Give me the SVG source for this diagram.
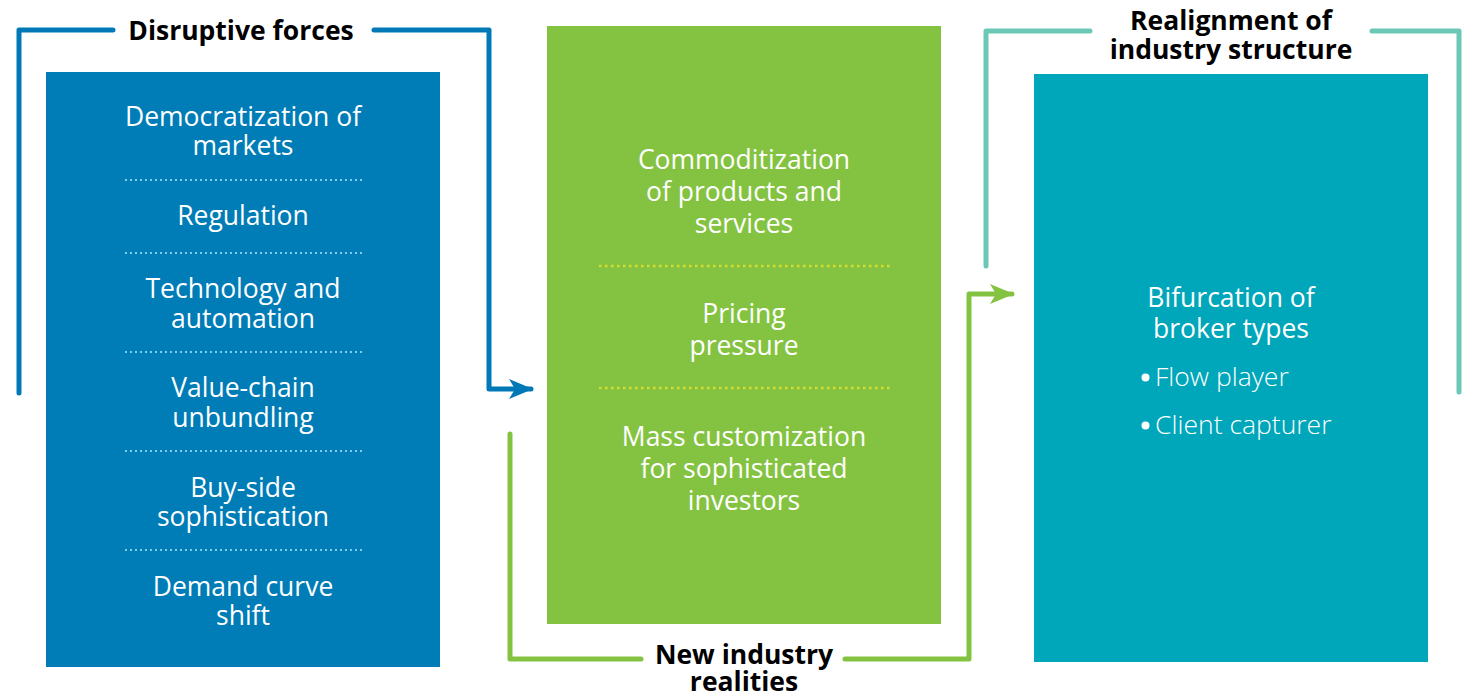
<svg xmlns="http://www.w3.org/2000/svg" width="1470" height="693" viewBox="0 0 1470 693">
  <defs>
    <style>
      .item { font-family: "Open Sans", "Noto Sans", sans-serif; font-size: 26.5px; fill: #ffffff; text-anchor: middle; }
      .head { font-family: "Open Sans", "Noto Sans", sans-serif; font-size: 26.5px; font-weight: bold; fill: #000000; text-anchor: middle; }
      .bullet { font-family: "Open Sans", "Noto Sans", sans-serif; font-size: 26.5px; font-weight: 300; fill: #ffffff; }
      .sepBlue { stroke: #7fcdee; stroke-width: 2; stroke-dasharray: 2 3; fill: none; }
      .sepGreen { stroke: #d4dc2c; stroke-width: 2.5; stroke-dasharray: 2.5 3.5; fill: none; }
      .bracket { fill: none; stroke-width: 5; stroke-linejoin: round; stroke-linecap: round; }
    </style>
    <marker id="arrowBlue" viewBox="0 0 24 20" refX="22" refY="10" markerWidth="24" markerHeight="20" markerUnits="userSpaceOnUse" orient="auto">
      <path d="M0,0 L24,10 L0,20 L6,10 Z" fill="#0079b6"/>
    </marker>
    <marker id="arrowGreen" viewBox="0 0 24 20" refX="22" refY="10" markerWidth="24" markerHeight="20" markerUnits="userSpaceOnUse" orient="auto">
      <path d="M0,0 L24,10 L0,20 L6,10 Z" fill="#84c341"/>
    </marker>
  </defs>

  <rect width="1470" height="693" fill="#ffffff"/>

  <!-- connectors: framing brackets with arrows -->
  <g id="connectors">
    <path class="bracket" stroke="#0079b6" d="M19,393 L19,30 L113,30 M374,30 L489,30 L489,389 L531,389" marker-end="url(#arrowBlue)"/>
    <path class="bracket" stroke="#84c341" d="M510,434 L510,659 L641,659 M845,659 L969,659 L969,294 L1012,294" marker-end="url(#arrowGreen)"/>
    <path class="bracket" stroke="#6cc8b6" d="M986,266 L986,31 L1090,31 M1372,31 L1459,31 L1459,392"/>
  </g>

  <!-- Disruptive forces -->
  <g id="disruptive-forces">
    <text class="head" x="241" y="40">Disruptive forces</text>
    <rect x="46" y="72" width="394" height="595" fill="#007cb7"/>
    <text class="item" x="243" y="126">Democratization of</text>
    <text class="item" x="243" y="155">markets</text>
    <line class="sepBlue" x1="125" y1="180" x2="362" y2="180"/>
    <text class="item" x="243" y="225">Regulation</text>
    <line class="sepBlue" x1="125" y1="253" x2="362" y2="253"/>
    <text class="item" x="243" y="298">Technology and</text>
    <text class="item" x="243" y="328">automation</text>
    <line class="sepBlue" x1="125" y1="352" x2="362" y2="352"/>
    <text class="item" x="243" y="397">Value-chain</text>
    <text class="item" x="243" y="427">unbundling</text>
    <line class="sepBlue" x1="125" y1="451" x2="362" y2="451"/>
    <text class="item" x="243" y="497">Buy-side</text>
    <text class="item" x="243" y="526">sophistication</text>
    <line class="sepBlue" x1="125" y1="550" x2="362" y2="550"/>
    <text class="item" x="243" y="596">Demand curve</text>
    <text class="item" x="243" y="625">shift</text>
  </g>

  <!-- New industry realities -->
  <g id="new-industry-realities">
    <rect x="547" y="26" width="394" height="598" fill="#84c341"/>
    <text class="item" x="744" y="169">Commoditization</text>
    <text class="item" x="744" y="201">of products and</text>
    <text class="item" x="744" y="233">services</text>
    <line class="sepGreen" x1="599" y1="266" x2="890" y2="266"/>
    <text class="item" x="744" y="323">Pricing</text>
    <text class="item" x="744" y="355">pressure</text>
    <line class="sepGreen" x1="599" y1="388" x2="890" y2="388"/>
    <text class="item" x="744" y="446">Mass customization</text>
    <text class="item" x="744" y="478">for sophisticated</text>
    <text class="item" x="744" y="510">investors</text>
    <text class="head" x="744" y="664">New industry</text>
    <text class="head" x="744" y="691">realities</text>
  </g>

  <!-- Realignment of industry structure -->
  <g id="realignment">
    <text class="head" x="1231" y="30">Realignment of</text>
    <text class="head" x="1231" y="59">industry structure</text>
    <rect x="1034" y="74" width="394" height="588" fill="#00a6b9"/>
    <text class="item" x="1231" y="307">Bifurcation of</text>
    <text class="item" x="1231" y="338">broker types</text>
    <circle cx="1145.5" cy="377.5" r="4" fill="#ffffff"/>
    <text class="bullet" x="1155" y="386">Flow player</text>
    <circle cx="1145.5" cy="425.5" r="4" fill="#ffffff"/>
    <text class="bullet" x="1155" y="434">Client capturer</text>
  </g>
</svg>
